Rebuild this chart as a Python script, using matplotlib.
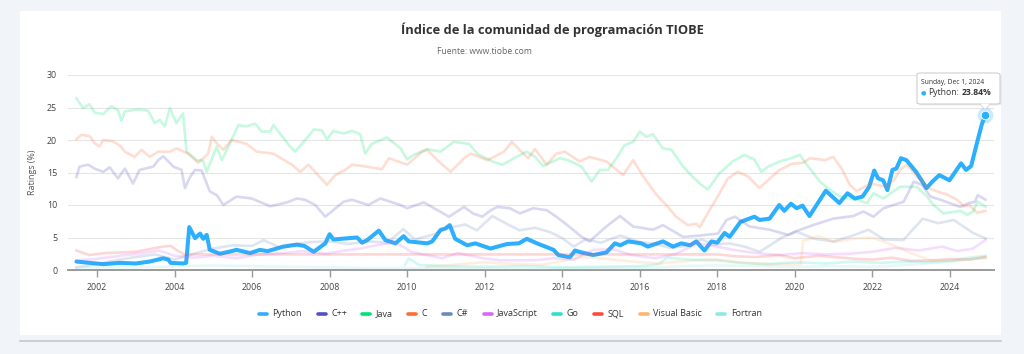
import matplotlib
matplotlib.use("Agg")
import matplotlib.pyplot as plt
from matplotlib.patches import Rectangle, FancyBboxPatch, Polygon
from matplotlib.lines import Line2D

plt.rcParams['font.family'] = ['Open Sans', 'DejaVu Sans']

# ---- data (year, rating %) ----
py_x = [2001.47, 2001.81, 2002.16, 2002.59, 2003.0, 2003.36, 2003.71, 2003.84, 2003.9, 2004.22,
        2004.3, 2004.38, 2004.53, 2004.66, 2004.74, 2004.83, 2004.91, 2005.17, 2005.4, 2005.6,
        2005.95, 2006.2, 2006.4, 2006.81, 2007.16, 2007.35, 2007.59, 2007.89, 2008.0, 2008.1,
        2008.71, 2008.84, 2008.97, 2009.27, 2009.44, 2009.7, 2009.91, 2010.04, 2010.52, 2010.65,
        2010.86, 2010.99, 2011.1, 2011.24, 2011.55, 2011.76, 2012.15, 2012.58, 2012.88, 2013.09,
        2013.35, 2013.78, 2013.9, 2014.2, 2014.33, 2014.5, 2014.8, 2015.14, 2015.36, 2015.5,
        2015.7, 2016.04, 2016.21, 2016.6, 2016.86, 2017.07, 2017.3, 2017.46, 2017.67, 2017.85,
        2018.0, 2018.19, 2018.32, 2018.6, 2018.96, 2019.09, 2019.35, 2019.6, 2019.73, 2019.9,
        2020.05, 2020.2, 2020.38, 2020.8, 2021.15, 2021.36, 2021.55, 2021.75, 2021.92, 2022.05,
        2022.15, 2022.28, 2022.39, 2022.52, 2022.62, 2022.74, 2022.88, 2023.13, 2023.4, 2023.55,
        2023.73, 2023.99, 2024.29, 2024.42, 2024.55, 2024.72, 2024.83, 2024.92]
py_y = [1.3, 1.1, 0.9, 1.1, 1.0, 1.3, 1.8, 1.6, 1.1, 1.0,
        1.1, 6.6, 4.9, 5.6, 4.8, 5.4, 3.1, 2.5, 2.8, 3.1,
        2.6, 3.1, 2.9, 3.6, 3.9, 3.7, 2.8, 4.1, 5.5, 4.7,
        5.0, 4.2, 4.6, 6.05, 4.6, 4.1, 5.2, 4.4, 4.1, 4.4,
        6.15, 6.4, 6.9, 4.8, 3.8, 4.1, 3.3, 4.0, 4.1, 4.8,
        4.1, 3.1, 2.3, 1.95, 3.0, 2.7, 2.3, 2.7, 4.1, 3.8,
        4.4, 4.1, 3.6, 4.4, 3.6, 4.1, 3.8, 4.4, 3.0, 4.4,
        4.2, 5.7, 5.1, 7.4, 8.2, 7.7, 7.9, 10.0, 9.1, 10.2,
        9.5, 9.9, 8.3, 12.2, 10.3, 11.8, 11.0, 11.3, 12.8, 15.3,
        14.1, 13.8, 12.3, 15.4, 15.6, 17.2, 16.9, 15.1, 12.6, 13.6,
        14.6, 13.8, 16.4, 15.4, 16.0, 20.0, 22.5, 23.84]

cpp_x = [2001.47, 2001.55, 2001.77, 2001.94, 2002.16, 2002.33, 2002.54, 2002.72, 2002.93, 2003.1,
         2003.45, 2003.58, 2003.71, 2003.97, 2004.18, 2004.27, 2004.4, 2004.53, 2004.7, 2004.91,
         2005.09, 2005.26, 2005.6, 2005.99, 2006.47, 2006.9, 2007.16, 2007.37, 2007.63, 2007.89,
         2008.36, 2008.58, 2009.0, 2009.31, 2009.83, 2010.0, 2010.43, 2011.08, 2011.47, 2011.7,
         2011.94, 2012.16, 2012.33, 2012.65, 2012.91, 2013.25, 2013.6, 2013.85, 2014.07, 2014.28,
         2014.5, 2014.71, 2014.93, 2015.14, 2015.49, 2015.83, 2016.34, 2016.6, 2017.12, 2017.55,
         2018.02, 2018.24, 2018.46, 2018.83, 2019.35, 2019.83, 2020.0, 2020.47, 2020.99, 2021.51,
         2021.77, 2022.03, 2022.29, 2022.55, 2022.81, 2023.07, 2023.28, 2023.5, 2023.76, 2024.27,
         2024.49, 2024.65, 2024.72, 2024.92]
cpp_y = [14.3, 15.9, 16.2, 15.6, 15.1, 15.8, 14.1, 15.6, 13.3, 15.4,
         15.9, 16.9, 17.5, 15.9, 15.4, 12.6, 14.3, 15.4, 15.3, 12.1,
         11.5, 10.0, 11.3, 11.0, 9.8, 10.4, 11.0, 10.8, 10.0, 8.2,
         10.5, 10.8, 10.0, 11.0, 10.0, 9.5, 10.4, 8.2, 9.7, 8.7,
         8.2, 9.2, 9.7, 9.5, 8.7, 9.5, 9.2, 8.2, 7.2, 6.2,
         5.1, 4.4, 5.6, 6.7, 8.3, 6.7, 6.2, 6.9, 5.1, 5.3,
         5.6, 7.7, 8.2, 6.7, 6.2, 5.4, 5.9, 6.9, 7.9, 8.3,
         9.0, 8.2, 9.5, 10.0, 10.5, 13.6, 13.1, 11.3, 10.8, 9.7,
         10.3, 10.5, 11.5, 10.82]

java_x = [2001.47, 2001.64, 2001.81, 2001.94, 2002.16, 2002.37, 2002.54, 2002.63, 2002.72, 2003.06,
          2003.32, 2003.49, 2003.62, 2003.75, 2003.88, 2004.05, 2004.22, 2004.31, 2004.57, 2004.74,
          2004.83, 2005.09, 2005.22, 2005.43, 2005.65, 2005.86, 2006.08, 2006.25, 2006.47, 2006.55,
          2006.72, 2006.98, 2007.11, 2007.37, 2007.59, 2007.8, 2007.93, 2008.1, 2008.36, 2008.58,
          2008.79, 2008.92, 2009.09, 2009.48, 2009.83, 2010.0, 2010.17, 2010.52, 2010.86, 2011.2,
          2011.6, 2011.81, 2012.03, 2012.24, 2012.46, 2012.82, 2013.08, 2013.3, 2013.51, 2013.94,
          2014.15, 2014.5, 2014.76, 2014.97, 2015.18, 2015.4, 2015.61, 2015.83, 2016.0, 2016.17,
          2016.34, 2016.6, 2016.82, 2017.12, 2017.37, 2017.59, 2017.76, 2018.06, 2018.4, 2018.7,
          2018.96, 2019.14, 2019.31, 2019.61, 2019.91, 2020.13, 2020.35, 2020.65, 2020.91, 2021.17,
          2021.6, 2021.86, 2022.03, 2022.29, 2022.55, 2022.72, 2023.15, 2023.41, 2023.58, 2023.84,
          2024.27, 2024.45, 2024.6, 2024.72, 2024.92]
java_y = [26.4, 24.9, 25.5, 24.2, 24.0, 25.2, 24.6, 23.0, 24.4, 24.7,
          24.5, 22.6, 23.1, 22.1, 24.9, 22.6, 24.1, 18.2, 16.9, 16.8,
          15.1, 19.0, 16.9, 19.5, 22.3, 22.1, 22.5, 21.3, 21.3, 22.3,
          21.0, 19.0, 18.2, 20.0, 21.6, 21.5, 20.1, 21.4, 21.0, 21.4,
          20.9, 17.9, 19.4, 20.4, 18.7, 17.0, 17.7, 18.6, 18.2, 19.7,
          19.4, 17.9, 17.2, 16.6, 16.2, 17.4, 18.2, 17.4, 16.0, 17.2,
          16.9, 15.9, 13.6, 15.4, 15.4, 17.2, 19.2, 19.7, 21.3, 20.5,
          20.9, 18.7, 18.5, 15.9, 14.3, 13.1, 12.4, 14.9, 16.7, 17.7,
          17.0, 15.1, 15.9, 16.7, 17.2, 17.7, 15.9, 13.6, 12.3, 11.3,
          10.8, 10.3, 11.8, 11.0, 12.1, 12.8, 12.8, 11.3, 10.0, 8.7,
          9.1, 8.5, 9.0, 10.5, 9.72]

c_x = [2001.47, 2001.6, 2001.81, 2001.94, 2002.07, 2002.16, 2002.41, 2002.6, 2002.72, 2002.97,
       2003.15, 2003.36, 2003.58, 2003.88, 2004.05, 2004.35, 2004.61, 2004.87, 2004.96, 2005.09,
       2005.26, 2005.47, 2005.86, 2006.12, 2006.55, 2007.03, 2007.24, 2007.46, 2007.93, 2008.15,
       2008.4, 2008.58, 2008.97, 2009.35, 2009.53, 2010.0, 2010.39, 2010.52, 2010.78, 2011.12,
       2011.47, 2011.64, 2012.07, 2012.5, 2012.7, 2012.95, 2013.12, 2013.3, 2013.6, 2013.85,
       2014.07, 2014.45, 2014.71, 2015.14, 2015.57, 2015.83, 2016.09, 2016.43, 2016.73, 2016.94,
       2017.24, 2017.46, 2017.55, 2017.8, 2018.06, 2018.28, 2018.53, 2018.79, 2019.09, 2019.27,
       2019.61, 2019.91, 2020.22, 2020.39, 2020.78, 2020.99, 2021.21, 2021.42, 2021.6, 2021.94,
       2022.37, 2022.59, 2022.72, 2022.89, 2023.15, 2023.45, 2023.67, 2023.93, 2024.19, 2024.36,
       2024.5, 2024.7, 2024.92]
c_y = [20.1, 20.8, 20.6, 19.5, 19.0, 20.0, 19.8, 19.1, 18.2, 17.4,
       18.5, 17.4, 18.2, 18.2, 18.7, 17.9, 16.5, 17.9, 20.5, 19.5,
       18.5, 20.0, 19.4, 18.2, 17.9, 16.2, 15.1, 16.2, 13.1, 14.6,
       15.4, 16.2, 15.9, 15.5, 17.2, 16.2, 18.2, 18.5, 16.9, 15.1,
       17.2, 17.9, 16.9, 18.2, 19.7, 18.2, 17.2, 18.6, 16.2, 17.9,
       18.2, 16.7, 17.4, 16.7, 14.6, 16.9, 14.4, 11.6, 9.7, 8.2,
       6.9, 7.1, 6.6, 9.2, 11.8, 14.1, 15.1, 14.4, 12.6, 13.6,
       15.4, 16.3, 16.5, 17.2, 16.9, 17.4, 15.6, 13.1, 12.1, 13.3,
       12.8, 14.1, 15.4, 16.2, 14.4, 12.6, 12.1, 11.6, 10.8, 9.8,
       10.0, 8.8, 9.1]

cs_x = [2001.47, 2002.0, 2002.5, 2003.0, 2003.5, 2004.0, 2004.5, 2005.0, 2005.5, 2006.0,
        2006.3, 2006.7, 2007.0, 2007.5, 2008.0, 2008.5, 2009.0, 2009.5, 2009.9, 2010.2,
        2010.7, 2011.0, 2011.5, 2011.8, 2012.2, 2012.6, 2012.9, 2013.3, 2013.7, 2014.0,
        2014.3, 2014.6, 2015.0, 2015.5, 2016.0, 2016.4, 2016.8, 2017.2, 2017.6, 2017.9,
        2018.3, 2018.7, 2019.1, 2019.7, 2020.05, 2020.5, 2021.0, 2021.5, 2021.9, 2022.3,
        2022.8, 2023.3, 2023.7, 2024.1, 2024.3, 2024.6, 2024.92]
cs_y = [0.4, 0.9, 1.5, 2.0, 2.4, 1.6, 2.5, 3.3, 3.8, 3.7,
        4.6, 3.5, 3.9, 4.3, 4.4, 4.0, 4.4, 4.2, 6.3, 4.7,
        5.5, 6.4, 7.0, 6.1, 8.3, 7.0, 6.1, 6.5, 5.8, 4.9,
        3.6, 4.7, 4.2, 5.3, 4.3, 4.0, 3.4, 3.7, 4.7, 3.9,
        4.1, 3.6, 2.8, 5.1, 5.9, 4.8, 4.4, 5.3, 6.2, 4.7,
        4.6, 7.9, 7.2, 7.7, 6.9, 5.7, 4.87]

js_x = [2001.47, 2002.0, 2002.6, 2003.2, 2003.6, 2004.0, 2004.5, 2005.0, 2005.6, 2006.2,
        2006.8, 2007.3, 2007.9, 2008.4, 2008.8, 2009.2, 2009.66, 2009.9, 2010.1, 2010.9,
        2011.3, 2011.97, 2012.4, 2013.3, 2013.8, 2014.3, 2014.8, 2015.3, 2015.8, 2016.4,
        2016.9, 2017.5, 2018.0, 2018.4, 2019.0, 2019.6, 2020.2, 2020.8, 2021.4, 2022.0,
        2022.6, 2023.2, 2023.8, 2024.2, 2024.6, 2024.92]
js_y = [1.5, 1.7, 2.2, 2.6, 3.0, 2.2, 1.9, 2.2, 1.8, 2.4,
        2.6, 2.9, 2.5, 3.0, 3.3, 3.8, 4.2, 3.6, 2.8, 1.8,
        2.6, 1.8, 1.5, 1.5, 1.8, 1.6, 3.1, 3.2, 2.3, 1.8,
        2.4, 4.1, 3.6, 3.1, 2.6, 2.3, 2.6, 2.4, 2.5, 2.8,
        3.4, 3.0, 3.6, 2.9, 3.3, 4.61]

go_x = [2009.95, 2010.04, 2010.3, 2011.0, 2012.0, 2013.0, 2014.0, 2015.0, 2016.0, 2016.5,
        2016.7, 2017.3, 2018.0, 2018.6, 2019.3, 2020.0, 2020.8, 2021.5, 2022.2, 2022.9,
        2023.5, 2024.0, 2024.5, 2024.92]
go_y = [0.8, 1.8, 0.8, 0.6, 0.5, 0.6, 0.4, 0.5, 0.6, 0.9,
        1.9, 1.6, 1.5, 1.1, 0.9, 1.2, 1.0, 1.3, 1.1, 1.3,
        1.2, 1.4, 1.9, 2.17]

sql_x = [2001.47, 2001.8, 2002.2, 2003.0, 2003.7, 2003.9, 2004.05, 2004.25, 2018.0, 2018.5,
         2019.0, 2019.6, 2020.0, 2020.6, 2021.0, 2021.6, 2022.0, 2022.5, 2023.0, 2023.6,
         2024.0, 2024.5, 2024.92]
sql_y = [3.0, 2.3, 2.6, 2.8, 3.6, 3.7, 3.1, 2.4, 2.4, 2.1,
         2.0, 2.3, 1.8, 2.2, 2.0, 1.7, 1.6, 1.9, 1.4, 1.5,
         1.7, 1.6, 1.99]

vb_x = [2010.5, 2011.2, 2012.0, 2012.8, 2013.5, 2014.0, 2014.5, 2015.0, 2015.5, 2016.0,
        2016.5, 2017.0, 2017.5, 2018.0, 2018.5, 2019.0, 2019.5, 2020.15, 2020.22, 2020.6,
        2021.0, 2021.6, 2022.0, 2022.5, 2023.0, 2023.5, 2024.0, 2024.5, 2024.92]
vb_y = [0.5, 0.8, 1.2, 0.9, 0.8, 1.4, 2.0, 1.8, 1.5, 1.2,
        1.0, 1.3, 1.5, 1.6, 1.2, 1.0, 0.9, 0.9, 4.5, 5.2,
        4.3, 4.9, 5.0, 3.9, 2.6, 1.5, 1.4, 1.6, 1.96]

ft_x = [2001.47, 2003.0, 2005.0, 2007.0, 2009.0, 2011.0, 2013.0, 2015.0, 2016.5, 2017.0,
        2018.0, 2019.0, 2020.0, 2021.0, 2022.0, 2023.0, 2023.6, 2024.2, 2024.6, 2024.92]
ft_y = [0.4, 0.4, 0.7, 0.5, 0.3, 0.3, 0.2, 0.3, 0.4, 0.6,
        0.7, 0.6, 0.5, 0.6, 0.5, 0.8, 1.1, 1.4, 1.7, 1.79]

names = ["Python", "C++", "Java", "C", "C#", "JavaScript", "Go", "SQL", "Visual Basic", "Fortran"]
colors = ["#2caffe", "#544fc5", "#00e272", "#fe6a35", "#6b8abc",
          "#d568fb", "#2ee0ca", "#fa4b42", "#feb56a", "#91e8e1"]
series = [(py_x, py_y), (cpp_x, cpp_y), (java_x, java_y), (c_x, c_y), (cs_x, cs_y),
          (js_x, js_y), (go_x, go_y), (sql_x, sql_y), (vb_x, vb_y), (ft_x, ft_y)]

W, H = 1024, 354
fig = plt.figure(figsize=(W / 100, H / 100), dpi=100)
fig.patch.set_facecolor("#f1f5f9")


def fx(px):
    return px / W


def fy(py):
    return 1 - py / H


# white card + bottom rule (behind the axes)
fig.patches.append(Rectangle((fx(20), fy(335)), fx(1001) - fx(20), fy(11) - fy(335),
                             transform=fig.transFigure, facecolor="white", edgecolor="none", zorder=-5))
fig.lines.append(Line2D([fx(20), fx(1001)], [fy(340.5), fy(340.5)], transform=fig.transFigure,
                        color="#c5c9ce", lw=1.2, zorder=-5))

ax = fig.add_axes([fx(68.3), fy(270), fx(994) - fx(68.3), fy(75) - fy(270)])
ax.set_facecolor("none")
ax.set_zorder(1)

for i, ((xs, ys), name, col) in enumerate(zip(series, names, colors)):
    if i == 0:
        ax.plot(xs, ys, color=col, lw=2.9, solid_joinstyle="round", solid_capstyle="round", zorder=3)
    else:
        ax.plot(xs, ys, color=col, lw=1.9, alpha=0.22, solid_joinstyle="round", zorder=4)

# hovered point
ax.scatter([py_x[-1]], [py_y[-1]], s=130, color=colors[0], alpha=0.25, lw=0, zorder=5, clip_on=False)
ax.scatter([py_x[-1]], [py_y[-1]], s=38, color=colors[0], edgecolor="white", lw=0.6, zorder=6, clip_on=False)

ax.set_xlim(2001.26, 2025.14)
ax.set_ylim(0, 30)
ax.set_xticks(range(2002, 2025, 2))
ax.set_yticks(range(0, 31, 5))
ax.grid(axis="y", color="#e6e6e6", lw=0.8)
ax.set_axisbelow(True)
for s in ["top", "right", "left"]:
    ax.spines[s].set_visible(False)
ax.spines["bottom"].set_color("#9a9a9a")
ax.spines["bottom"].set_linewidth(1.4)
ax.tick_params(axis="x", length=5, width=1, color="#9a9a9a", labelsize=6.4, labelcolor="#444444", pad=4)
ax.tick_params(axis="y", length=0, labelsize=6.4, labelcolor="#444444", pad=8)
ax.set_ylabel("Ratings (%)", fontsize=6.4, color="#555555")
ax.yaxis.set_label_coords((37 - 68.3) / (994 - 68.3), 0.5)

fig.text(fx(552), fy(30), "Índice de la comunidad de programación TIOBE", ha="center", va="center",
         fontsize=9.3, fontweight="bold", color="#333333")
fig.text(fx(484), fy(52), "Fuente: www.tiobe.com", ha="center", va="center", fontsize=6.2, color="#666666")

# legend, laid out item by item like the Highcharts one
renderer = fig.canvas.get_renderer()
x = 258.0
for name, col in zip(names, colors):
    fig.lines.append(Line2D([fx(x + 1), fx(x + 9)], [fy(313.5), fy(313.5)], transform=fig.transFigure,
                            color=col, lw=2.6, solid_capstyle="round"))
    t = fig.text(fx(x + 14.5), fy(316.3), name, ha="left", va="baseline", fontsize=6.5,
                 color="#333333")
    w = t.get_window_extent(renderer).width
    x = x + 14.5 + w + 14.5

# tooltip
fig.patches.append(FancyBboxPatch((fx(918.5), fy(105.5)), fx(1001.5) - fx(918.5), fy(74.5) - fy(105.5),
                                  boxstyle="round,pad=0,rounding_size=0.004", transform=fig.transFigure,
                                  facecolor="#000000", alpha=0.08, edgecolor="none", zorder=9))
fig.patches.append(FancyBboxPatch((fx(917), fy(104)), fx(1000) - fx(917), fy(73) - fy(104),
                                  boxstyle="round,pad=0,rounding_size=0.004", transform=fig.transFigure,
                                  facecolor="white", edgecolor="#cfcfcf", lw=0.8, zorder=10))
fig.patches.append(Polygon([(fx(980), fy(103.6)), (fx(990), fy(103.6)), (fx(985), fy(109))],
                           closed=True, transform=fig.transFigure, facecolor="white",
                           edgecolor="none", zorder=11))
fig.lines.append(Line2D([fx(980), fx(985), fx(990)], [fy(104), fy(109), fy(104)],
                        transform=fig.transFigure, color="#cfcfcf", lw=0.8, zorder=11))
fig.text(fx(921), fy(82.5), "Sunday, Dec 1, 2024", ha="left", va="center", fontsize=4.9,
         color="#333333", zorder=12)
fig.text(fx(921), fy(92.5), "●", ha="left", va="center", fontsize=4.5, color=colors[0], zorder=12)
t1 = fig.text(fx(928.5), fy(92.5), "Python:", ha="left", va="center", fontsize=6.2, color="#333333",
              zorder=12)
x1 = 928.5 + t1.get_window_extent(renderer).width + 2.5
fig.text(fx(x1), fy(92.5), "23.84%", ha="left", va="center", fontsize=6.2, fontweight="bold",
         color="#333333", zorder=12)

fig.savefig("out.png", dpi=100, facecolor=fig.get_facecolor())
